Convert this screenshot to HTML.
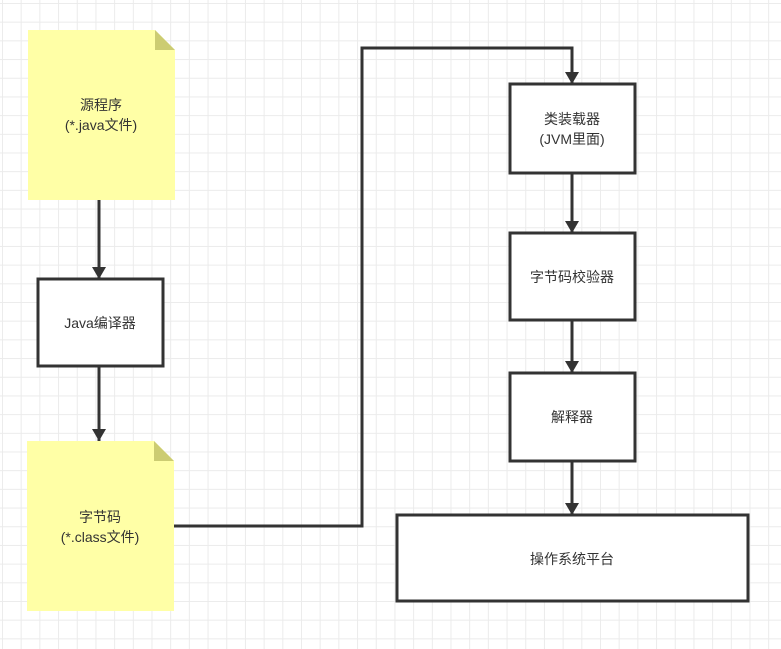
<!DOCTYPE html>
<html><head><style>
body{margin:0;width:781px;height:649px;overflow:hidden;background:#fff;
background-image:linear-gradient(#ebebeb 1px,transparent 1px),linear-gradient(90deg,#ebebeb 1px,transparent 1px);
background-size:18.7px 18.7px;background-position:2px 3px;}
svg{position:absolute;left:0;top:0}
text{font-family:"Liberation Sans","Noto Sans CJK SC",sans-serif;font-size:14px;fill:#333;text-anchor:middle}
</style></head><body>
<svg width="781" height="649">
<defs><marker id="a" markerWidth="10" markerHeight="10" refX="8" refY="5" orient="auto" markerUnits="userSpaceOnUse"><path d="M0,0 L10,5 L0,10 Z" fill="#333"/></marker>
<marker id="b" markerWidth="12" markerHeight="14" refX="12" refY="7" orient="auto" markerUnits="userSpaceOnUse"><path d="M0,0 L12,7 L0,14 Z" fill="#333"/></marker></defs>
<path d="M28,30 H155 L175,50 V200 H28 Z" fill="#ffffa6"/>
<path d="M155,30 L175,50 H155 Z" fill="#cccc72"/>
<text x="101" y="110">源程序</text><text x="101" y="130">(*.java文件)</text>
<path d="M27,441 H154 L174,461 V611 H27 Z" fill="#ffffa6"/>
<path d="M154,441 L174,461 H154 Z" fill="#cccc72"/>
<text x="100" y="522">字节码</text><text x="100" y="542">(*.class文件)</text>
<g fill="#fff" stroke="#333" stroke-width="3">
<rect x="38" y="279" width="125" height="87"/>
<rect x="510" y="84" width="125" height="89"/>
<rect x="510" y="233" width="125" height="87"/>
<rect x="510" y="373" width="125" height="88"/>
<rect x="397" y="515" width="351" height="86"/>
</g>
<text x="100" y="328">Java编译器</text>
<text x="572" y="124">类装载器</text><text x="572" y="144">(JVM里面)</text>
<text x="572" y="282">字节码校验器</text>
<text x="572" y="422">解释器</text>
<text x="572" y="564">操作系统平台</text>
<g stroke="#333" stroke-width="3" fill="none" marker-end="url(#b)">
<path d="M99,200 V279"/>
<path d="M99,366 V441"/>
<path d="M174,526 H362 V48 H572 V84"/>
<path d="M572,173 V233"/>
<path d="M572,320 V373"/>
<path d="M572,461 V515"/>
</g>
</svg>
</body></html>
